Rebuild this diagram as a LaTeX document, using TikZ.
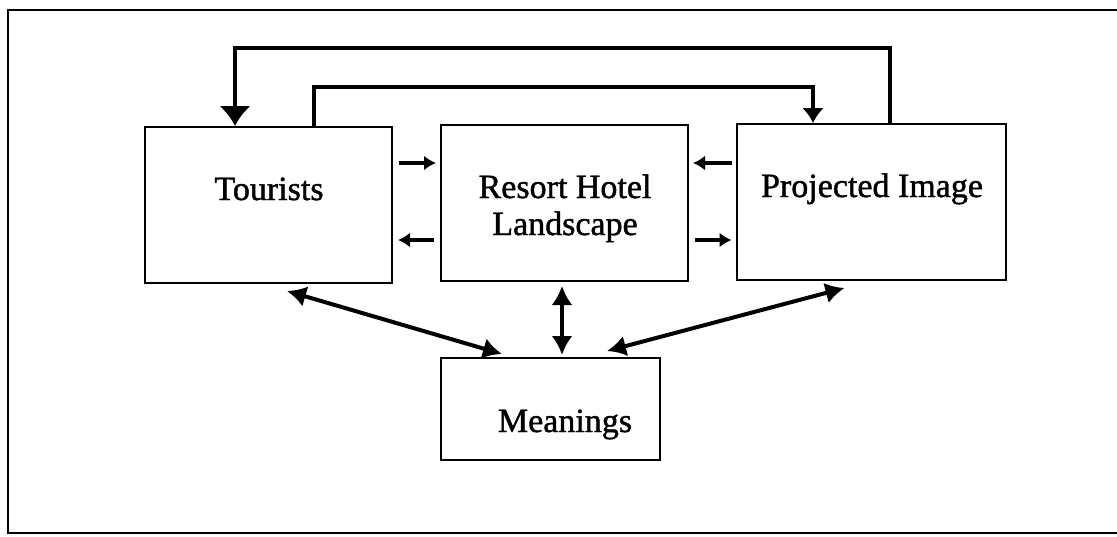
\documentclass[tikz,border=0pt]{standalone}
\usepackage{fontspec}
\setmainfont{Liberation Serif}
\newfontfamily\boxfont{Liberation Serif}[FakeBold=1.3]
\usetikzlibrary{arrows.meta}

\tikzset{
  box/.style={draw, line width=1pt, rectangle, inner sep=0pt},
  lbl/.style={font=\boxfont\fontsize{17}{18.5}\selectfont, align=center, inner sep=0pt},
  link/.style={line width=2pt},
  bigtip/.style={-{Latex[width=16pt,length=10pt]}},
  midtip/.style={-{Latex[width=11pt,length=7.5pt]}},
  sidearrow/.style={line width=2pt, -{Latex[width=7.5pt,length=6pt]}},
  twoway/.style={line width=2pt, {Latex[width=10.5pt,length=9.5pt]}-{Latex[width=10.5pt,length=9.5pt]}}
}

\begin{document}
\begin{tikzpicture}[x=0.5pt, y=-0.5pt]
  \useasboundingbox (0,0) rectangle (1117,536);

  % outer frame, open on the right
  \draw[line width=1.2pt] (1117,10) -- (8,10) -- (8,533) -- (1117,533);

  % boxes
  \node[box, minimum width=123.5pt, minimum height=78pt] (tour) at (268.5,205) {};
  \node[box, minimum width=123.5pt, minimum height=78pt] (res)  at (564.5,203) {};
  \node[box, minimum width=134.5pt, minimum height=78pt] (proj) at (871,202) {};
  \node[box, minimum width=109.5pt, minimum height=51pt] (mean) at (550.5,409) {};

  % box texts
  \node[lbl, anchor=base] (tourT) at (269,200) {Tourists};
  \node[lbl, anchor=base] (resT1) at (565,198) {Resort Hotel};
  \node[lbl, anchor=base] (resT2) at (565,235) {Landscape};
  \node[lbl, anchor=base] (projT) at (872,197) {Projected Image};
  \node[lbl, anchor=base] (meanT) at (565,432) {Meanings};

  % routing points of the two feedback loops over the top
  \coordinate (o1) at (890,48);
  \coordinate (o2) at (235,48);
  \coordinate (i1) at (314,87);
  \coordinate (i2) at (813,87);
  \coordinate (m1) at (562,0);

  % Projected Image -> Tourists (outer loop)
  \draw[link, bigtip] (proj.north -| o1) |- (o2) -- (o2 |- tour.north);
  % Tourists -> Projected Image (inner loop)
  \draw[line width=1.8pt, midtip] (tour.north -| i1) |- (i2) -- (i2 |- proj.north);

  % short horizontal arrows between the upper boxes
  \draw[sidearrow] ([xshift=3pt,yshift=21pt]tour.east) -- ([xshift=-2pt,yshift=20pt]res.west);
  \draw[sidearrow] ([xshift=-3pt,yshift=-18.5pt]res.west) -- ([xshift=2.5pt,yshift=-17.5pt]tour.east);
  \draw[sidearrow] ([xshift=-2pt,yshift=19.5pt]proj.west) -- ([xshift=2pt,yshift=20pt]res.east);
  \draw[sidearrow] ([xshift=3pt,yshift=-18.5pt]res.east) -- ([xshift=-2pt,yshift=-19pt]proj.west);

  % two-way links with Meanings
  \draw[twoway] ([xshift=71.5pt,yshift=-3.5pt]tour.south west) -- ([xshift=31pt,yshift=1.5pt]mean.north west);
  \draw[twoway] ([yshift=-2pt]res.south -| m1) -- ([yshift=1pt]mean.north -| m1);
  \draw[twoway] ([xshift=83.5pt,yshift=3pt]mean.north west) -- ([xshift=54.5pt,yshift=-3.5pt]proj.south west);
\end{tikzpicture}
\end{document}
